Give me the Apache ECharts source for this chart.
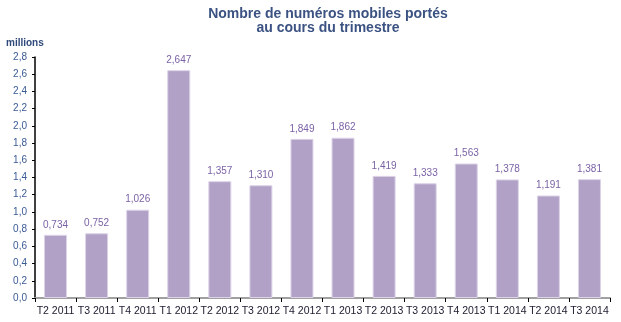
<!DOCTYPE html>
<html><head><meta charset="utf-8">
<script src="https://cdn.jsdelivr.net/npm/echarts@6/dist/echarts.min.js"></script>
<style>html,body{margin:0;padding:0;background:#fff}#c{width:621px;height:322px}</style>
</head><body><div id="c"></div>
<script>
const categories = ["T2 2011","T3 2011","T4 2011","T1 2012","T2 2012","T3 2012","T4 2012","T1 2013","T2 2013","T3 2013","T4 2013","T1 2014","T2 2014","T3 2014"];
const values = [0.734,0.752,1.026,2.647,1.357,1.310,1.849,1.862,1.419,1.333,1.563,1.378,1.191,1.381];
const fmt = v => v.toFixed(1).replace('.', ',');
const chart = echarts.init(document.getElementById('c'));
chart.setOption({
  animation:false,
  graphic:[
    {type:'text',x:328,y:7,style:{text:'Nombre de numéros mobiles portés\nau cours du trimestre',align:'center',verticalAlign:'top',
      font:'bold 14px "Liberation Sans"',fill:'#3b5282',lineHeight:14}},
    {type:'text',left:6,top:38,style:{text:'millions',font:'bold 10px "Liberation Sans"',fill:'#2f4a7a'}}
  ],
  grid:{left:35,right:11,top:57,bottom:24},
  xAxis:{type:'category',data:categories,
    axisLine:{lineStyle:{color:'#a0a0a0',width:2}},
    axisTick:{show:true,alignWithLabel:false,length:4,lineStyle:{color:'#000'}},
    axisLabel:{fontFamily:'Liberation Sans',fontSize:10.5,color:'#1a1a2e',margin:8,interval:0}},
  yAxis:{type:'value',min:0,max:2.8,interval:0.2,
    axisLine:{show:true,lineStyle:{color:'#000',width:1.5}},
    axisTick:{show:true,length:3,lineStyle:{color:'#000'}},
    splitLine:{show:false},
    axisLabel:{fontFamily:'Liberation Sans',fontSize:10,color:'#3a5a96',margin:8,formatter:v=>fmt(v)}},
  series:[{type:'bar',data:values,barWidth:23,
    itemStyle:{color:'#b1a1c7',borderColor:'#ddd4e8',borderWidth:1},
    label:{show:true,position:'top',distance:5,fontFamily:'Liberation Sans',fontSize:10,color:'#7b62a6',
      formatter:p=>p.value.toFixed(3).replace('.', ',')}}]
});
</script></body></html>
